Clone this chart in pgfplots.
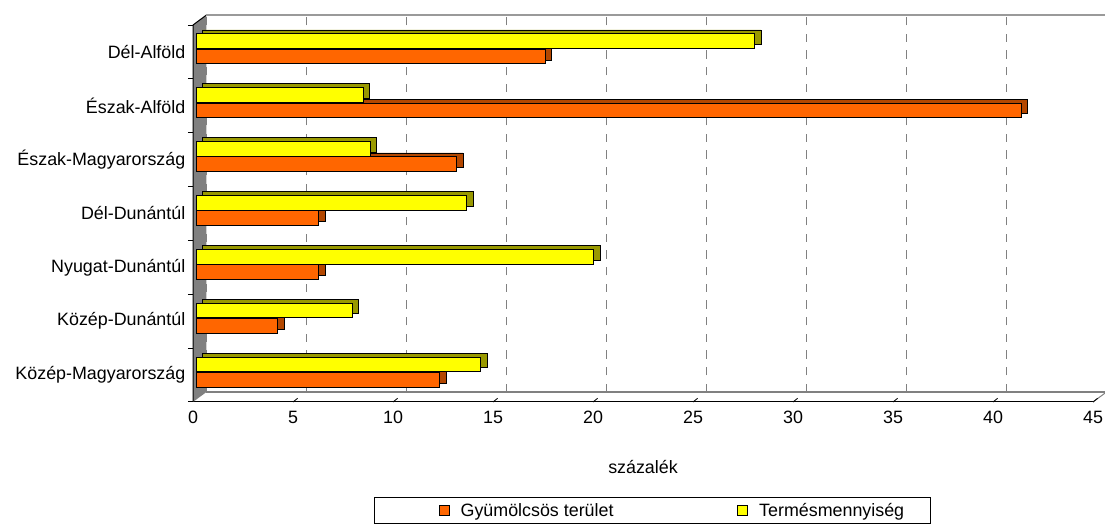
\documentclass[border=0pt]{standalone}
\usepackage{pgfplots}
\pgfplotsset{compat=1.18}
\usepackage{fontspec}
\setmainfont{Liberation Sans}
\definecolor{orangeF}{HTML}{FF6600}
\definecolor{orangeD}{HTML}{B34700}
\definecolor{yellowF}{HTML}{FFFF00}
\definecolor{yellowD}{HTML}{999900}
\definecolor{wallgray}{HTML}{808080}
\newcommand{\lf}{\fontsize{13.4}{16}\selectfont}
\begin{document}
\begin{tikzpicture}
\useasboundingbox (0,0) rectangle (828.75pt,395.25pt);
\begin{axis}[
  at={(144.75pt,93.75pt)}, anchor=south west,
  scale only axis, width=675pt, height=282.75pt,
  xmin=0, xmax=45, ymin=-0.5, ymax=6.5,
  clip=false,
  axis lines*=left,
  axis line style={black, line width=0.75pt, -},
  xtick={0,5,...,45},
  ytick={0,...,6},
  yticklabels={Közép-Magyarország, Közép-Dunántúl, Nyugat-Dunántúl, Dél-Dunántúl, Észak-Magyarország, Észak-Alföld, Dél-Alföld},
  minor ytick={-0.5,0.5,...,6.5},
  major tick length=0pt, minor tick length=3.75pt, tick align=outside,
  minor tick style={black, line width=0.75pt},
  xmajorgrids,
  major grid style={wallgray, line width=1pt, dash pattern=on 6.25pt off 6.25pt, xshift=10.1pt, yshift=7.5pt},
  /pgf/number format/assume math mode=true,
  xticklabel style={font=\lf, yshift=-3pt},
  yticklabel style={font=\lf, xshift=-2.25pt},
  xlabel={százalék},
  xlabel style={font=\lf, at={(axis description cs:0.5,-0.172)}, anchor=center},
  legend columns=2,
  legend cell align=left,
  legend style={at={(axis description cs:0.511,-0.288)}, anchor=center, draw=black, line width=0.75pt, font=\lf,
    inner xsep=18pt, inner ysep=2pt,
    /tikz/every even column/.append style={column sep=90.5pt}},
]
% left wall
\fill[wallgray] (axis cs:0,-0.5) -- (axis cs:0,6.5) -- ([xshift=10.1pt,yshift=7.5pt]axis cs:0,6.5) -- ([xshift=10.1pt,yshift=7.5pt]axis cs:0,-0.5) -- cycle;
\draw[black, line width=0.75pt] (axis cs:0,-0.5) -- (axis cs:0,6.5) -- ([xshift=10.1pt,yshift=7.5pt]axis cs:0,6.5);
% back wall top edge
\draw[wallgray!80, line width=0.9pt] ([xshift=10.1pt,yshift=7.5pt]axis cs:0,6.5) -- ([xshift=10.1pt,yshift=7.5pt]axis cs:45,6.5);
% floor
\draw[wallgray, line width=1.3pt] ([xshift=10.1pt,yshift=7.5pt]axis cs:0,-0.5) -- ([xshift=10.1pt,yshift=7.5pt]axis cs:45,-0.5);
\draw[wallgray, line width=0.75pt] (axis cs:45,-0.5) -- ([xshift=10.1pt,yshift=7.5pt]axis cs:45,-0.5);
\pgfplotsinvokeforeach{5,10,...,45}{\draw[black, line width=0.6pt] (axis cs:#1,-0.5) -- ++(3.5pt,2.8pt);}
% orange depth + front
\addplot[xbar, bar width=11pt, bar shift=-3.5pt, xshift=7pt, yshift=3pt, fill=orangeD, draw=black, line width=0.6pt, forget plot]
  coordinates {(12.18,0) (4.08,1) (6.13,2) (6.13,3) (13.03,4) (41.27,5) (17.47,6)};
\addplot[xbar, bar width=11pt, bar shift=-3.5pt, xshift=2.5pt, fill=orangeF, draw=black, line width=0.75pt,
  legend image code/.code={\path (-30pt,0pt) (13.5pt,0pt); \draw[fill=orangeF, draw=black, line width=0.6pt] (0pt,-3.75pt) rectangle (7.5pt,3.75pt);}]
  coordinates {(12.18,0) (4.08,1) (6.13,2) (6.13,3) (13.03,4) (41.27,5) (17.47,6)};
\addlegendentry{Gyümölcsös terület}
% yellow depth + front
\addplot[xbar, bar width=11pt, bar shift=8pt, xshift=7pt, yshift=3pt, fill=yellowD, draw=black, line width=0.6pt, forget plot]
  coordinates {(14.23,0) (7.82,1) (19.88,2) (13.53,3) (8.72,4) (8.37,5) (27.93,6)};
\addplot[xbar, bar width=11pt, bar shift=8pt, xshift=2.5pt, fill=yellowF, draw=black, line width=0.75pt,
  legend image code/.code={\path (0pt,0pt) (14pt,0pt); \draw[fill=yellowF, draw=black, line width=0.6pt] (0pt,-3.75pt) rectangle (7.5pt,3.75pt);}]
  coordinates {(14.23,0) (7.82,1) (19.88,2) (13.53,3) (8.72,4) (8.37,5) (27.93,6)};
\addlegendentry{Termésmennyiség}
\end{axis}
\end{tikzpicture}
\end{document}
